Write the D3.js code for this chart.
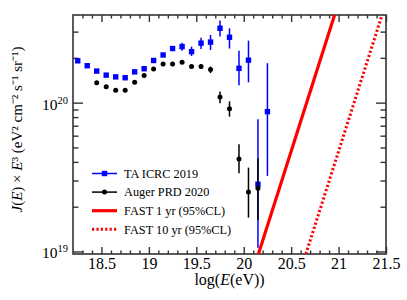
<!DOCTYPE html>
<html>
<head>
<meta charset="utf-8">
<script src="https://cdn.jsdelivr.net/npm/d3@7"></script>
<style>
  html, body { margin: 0; padding: 0; background: #fff; overflow: hidden; }
  svg { display: block; }
  svg text { font-family: "Liberation Serif", "Times New Roman", Times, serif; fill: #000; }
</style>
</head>
<body>
<div id="chart"></div>
<script>
// TA ICRC 2019 (log10 E, J*E^3 and its error band)
var taLogE = [18.25, 18.35, 18.45, 18.55, 18.65, 18.75, 18.85, 18.95, 19.05, 19.15, 19.25,
              19.35, 19.45, 19.55, 19.65, 19.75, 19.85, 19.95, 20.05, 20.15, 20.25];
var taFlux = [1.91e20, 1.77e20, 1.63e20, 1.53e20, 1.49e20, 1.47e20, 1.61e20, 1.69e20, 1.92e20, 2.09e20, 2.31e20,
              2.38e20, 2.20e20, 2.51e20, 2.55e20, 3.16e20, 2.75e20, 1.70e20, 1.93e20, 2.83e19, 8.70e19];
var taLow  = [1.89e20, 1.75e20, 1.61e20, 1.51e20, 1.47e20, 1.45e20, 1.58e20, 1.66e20, 1.88e20, 2.03e20, 2.22e20,
              2.23e20, 2.06e20, 2.29e20, 2.26e20, 2.78e20, 2.31e20, 1.31e20, 1.37e20, 1.06e19, 3.22e19];
var taHigh = [1.93e20, 1.79e20, 1.65e20, 1.55e20, 1.51e20, 1.49e20, 1.64e20, 1.72e20, 1.96e20, 2.15e20, 2.40e20,
              2.53e20, 2.38e20, 2.73e20, 2.85e20, 3.56e20, 3.16e20, 2.23e20, 2.61e20, 7.73e19, 1.84e20];

// Auger PRD 2020
var augerLogE = [18.45, 18.55, 18.65, 18.75, 18.85, 18.95, 19.05, 19.15, 19.25,
                 19.35, 19.45, 19.55, 19.65, 19.75, 19.85, 19.95, 20.05, 20.15];
var augerFlux = [1.36e20, 1.28e20, 1.21e20, 1.21e20, 1.37e20, 1.52e20, 1.68e20, 1.82e20, 1.82e20,
                 1.87e20, 1.75e20, 1.75e20, 1.67e20, 1.09e20, 9.11e19, 4.18e19, 2.51e19, 2.66e19];
var augerLow  = [1.35e20, 1.27e20, 1.20e20, 1.20e20, 1.36e20, 1.50e20, 1.66e20, 1.79e20, 1.79e20,
                 1.83e20, 1.70e20, 1.68e20, 1.58e20, 9.91e19, 8.05e19, 3.35e19, 1.69e19, 1.63e19];
var augerHigh = [1.37e20, 1.29e20, 1.22e20, 1.22e20, 1.38e20, 1.54e20, 1.70e20, 1.85e20, 1.85e20,
                 1.91e20, 1.80e20, 1.82e20, 1.75e20, 1.19e20, 1.02e20, 5.25e19, 3.66e19, 4.23e19];

// FAST sensitivity lines (end points)
var fast1LogE = [20.0, 21.0];
var fast1Flux = [4.71e18, 4.71e20];
var fast10LogE = [20.5, 21.5];
var fast10Flux = [4.71e18, 4.71e20];

var xTicks = [18.5, 19, 19.5, 20, 20.5, 21, 21.5];
var yTicks = [1e19, 1e20];
var legendLabels = ["TA ICRC 2019", "Auger PRD 2020", "FAST 1 yr (95%CL)", "FAST 10 yr (95%CL)"];

var serif = "Liberation Serif, Times New Roman, Times, serif";

var margin = {top: 15, right: 21, bottom: 46, left: 73},
    width = 407,
    height = 300,
    innerWidth = width - margin.left - margin.right,
    innerHeight = height - margin.top - margin.bottom;

var xScale = d3.scaleLinear().domain([18.2, 21.5]).range([0, innerWidth]);
var yScale = d3.scaleLog().domain([9.62e18, 3.88e20]).range([innerHeight, 0]);

var svg = d3.select("#chart").append("svg")
    .attr("width", width)
    .attr("height", height)
    .attr("font-family", serif);

svg.append("defs").append("clipPath").attr("id", "clip")
  .append("rect").attr("width", innerWidth).attr("height", innerHeight);

var g = svg.append("g")
    .attr("transform", "translate(" + margin.left + "," + margin.top + ")");

// minor ticks
var xMinor = d3.range(18.3, 21.45, 0.1).map(function (d) { return +d.toFixed(1); })
  .filter(function (d) { return xTicks.indexOf(d) < 0; });
var yMinor = [];
[1e19, 1e20].forEach(function (dec) {
  for (var k = 2; k <= 9; k++) if (dec * k < 3.88e20) yMinor.push(dec * k);
});

var axisColor = "#333";

function styleAxis(sel) {
  sel.attr("font-family", serif);
  sel.select(".domain").remove();
  sel.selectAll(".tick line").attr("stroke", axisColor).attr("stroke-width", 1.4);
  // drop the empty labels of tick-only axes
  sel.selectAll(".tick text").filter(function () { return !this.textContent; }).remove();
}

g.append("g").attr("transform", "translate(0," + innerHeight + ")")
  .call(d3.axisBottom(xScale).tickValues(xTicks).tickSize(-7).tickPadding(4)
    .tickFormat(function (d) { return d; }))
  .call(styleAxis)
  .selectAll("text").attr("font-size", 16).attr("font-family", serif);
g.append("g").attr("transform", "translate(0," + innerHeight + ")")
  .call(d3.axisBottom(xScale).tickValues(xMinor).tickSize(-3.5).tickFormat(""))
  .call(styleAxis);
g.append("g")
  .call(d3.axisTop(xScale).tickValues(xTicks).tickSize(-7).tickFormat(""))
  .call(styleAxis);
g.append("g")
  .call(d3.axisTop(xScale).tickValues(xMinor).tickSize(-3.5).tickFormat(""))
  .call(styleAxis);

g.append("g")
  .call(d3.axisLeft(yScale).tickValues(yTicks).tickSize(-10).tickFormat(""))
  .call(styleAxis);
g.append("g")
  .call(d3.axisLeft(yScale).tickValues(yMinor).tickSize(-5.5).tickFormat(""))
  .call(styleAxis);
g.append("g").attr("transform", "translate(" + innerWidth + ",0)")
  .call(d3.axisRight(yScale).tickValues(yTicks).tickSize(-10).tickFormat(""))
  .call(styleAxis);
g.append("g").attr("transform", "translate(" + innerWidth + ",0)")
  .call(d3.axisRight(yScale).tickValues(yMinor).tickSize(-5.5).tickFormat(""))
  .call(styleAxis);

// y tick labels 10^n
var yLab = g.selectAll(".ylab").data(yTicks).enter().append("text")
  .attr("class", "ylab")
  .attr("x", -5)
  .attr("y", function (d) { return yScale(d) + 7; })
  .attr("text-anchor", "end")
  .attr("font-family", serif)
  .attr("font-size", 15.5);
yLab.append("tspan").text("10");
yLab.append("tspan").attr("dy", -6).attr("font-size", 10.5)
  .text(function (d) { return Math.round(Math.log10(d)); });

// frame
g.append("rect").attr("width", innerWidth).attr("height", innerHeight)
  .attr("fill", "none").attr("stroke", axisColor).attr("stroke-width", 1.6);

// axis titles
svg.append("text")
  .attr("x", margin.left + innerWidth / 2).attr("y", 285)
  .attr("text-anchor", "middle").attr("font-size", 16)
  .attr("font-family", serif)
  .html("log(<tspan font-style='italic'>E</tspan>(eV))");

svg.append("text")
  .attr("transform", "translate(22," + (margin.top + innerHeight / 2 - 5) + ") rotate(-90)")
  .attr("text-anchor", "middle").attr("font-size", 15)
  .attr("font-family", serif)
  .html("<tspan font-style='italic'>J</tspan>(<tspan font-style='italic'>E</tspan>) × " +
    "<tspan font-style='italic'>E</tspan>³ (eV² cm⁻² s⁻¹ sr⁻¹)");

var plot = g.append("g").attr("clip-path", "url(#clip)");

// FAST lines
var line = d3.line()
  .x(function (d) { return xScale(d[0]); })
  .y(function (d) { return yScale(d[1]); });

plot.append("path")
  .datum(d3.zip(fast1LogE, fast1Flux))
  .attr("d", line).attr("fill", "none")
  .attr("stroke", "#ff0000").attr("stroke-width", 3.2);
plot.append("path")
  .datum(d3.zip(fast10LogE, fast10Flux))
  .attr("d", line).attr("fill", "none")
  .attr("stroke", "#ff0000").attr("stroke-width", 3)
  .attr("stroke-dasharray", "2.2,2.2");

// TA
var ta = d3.zip(taLogE, taFlux, taLow, taHigh);
plot.selectAll(".taerr").data(ta).enter().append("line")
  .attr("class", "taerr")
  .attr("x1", function (d) { return xScale(d[0]); })
  .attr("x2", function (d) { return xScale(d[0]); })
  .attr("y1", function (d) { return yScale(d[2]); })
  .attr("y2", function (d) { return yScale(d[3]); })
  .attr("stroke", "#0000ff").attr("stroke-width", 1.5);
plot.selectAll(".tapt").data(ta).enter().append("rect")
  .attr("class", "tapt")
  .attr("x", function (d) { return xScale(d[0]) - 2.7; })
  .attr("y", function (d) { return yScale(d[1]) - 2.7; })
  .attr("width", 5.4).attr("height", 5.4)
  .attr("fill", "#0000ff");

// Auger
var auger = d3.zip(augerLogE, augerFlux, augerLow, augerHigh);
plot.selectAll(".auerr").data(auger).enter().append("line")
  .attr("class", "auerr")
  .attr("x1", function (d) { return xScale(d[0]); })
  .attr("x2", function (d) { return xScale(d[0]); })
  .attr("y1", function (d) { return yScale(d[2]); })
  .attr("y2", function (d) { return yScale(d[3]); })
  .attr("stroke", "#000").attr("stroke-width", 1.5);
plot.selectAll(".aupt").data(auger).enter().append("circle")
  .attr("class", "aupt")
  .attr("cx", function (d) { return xScale(d[0]); })
  .attr("cy", function (d) { return yScale(d[1]); })
  .attr("r", 2.5)
  .attr("fill", "#000");

// legend
var lg = svg.append("g").attr("transform", "translate(92,173.5)");
var rowH = 18.6;
legendLabels.forEach(function (t, i) {
  var row = lg.append("g").attr("transform", "translate(0," + (i * rowH) + ")");
  var ln = row.append("line").attr("x1", 0).attr("x2", 25).attr("y1", 0).attr("y2", 0);
  if (i === 0) {
    ln.attr("stroke", "#0000ff").attr("stroke-width", 1.5);
    row.append("rect").attr("x", 12.5 - 2.7).attr("y", -2.7).attr("width", 5.4).attr("height", 5.4).attr("fill", "#0000ff");
  } else if (i === 1) {
    ln.attr("stroke", "#000").attr("stroke-width", 1.5);
    row.append("circle").attr("cx", 12.5).attr("r", 2.5).attr("fill", "#000");
  } else if (i === 2) {
    ln.attr("stroke", "#ff0000").attr("stroke-width", 3.2);
  } else {
    ln.attr("stroke", "#ff0000").attr("stroke-width", 3).attr("stroke-dasharray", "2.2,2.2");
  }
  row.append("text").attr("x", 32).attr("y", 4.3).attr("font-size", 12.3)
    .attr("font-family", serif).text(t);
});
</script>
</body>
</html>
